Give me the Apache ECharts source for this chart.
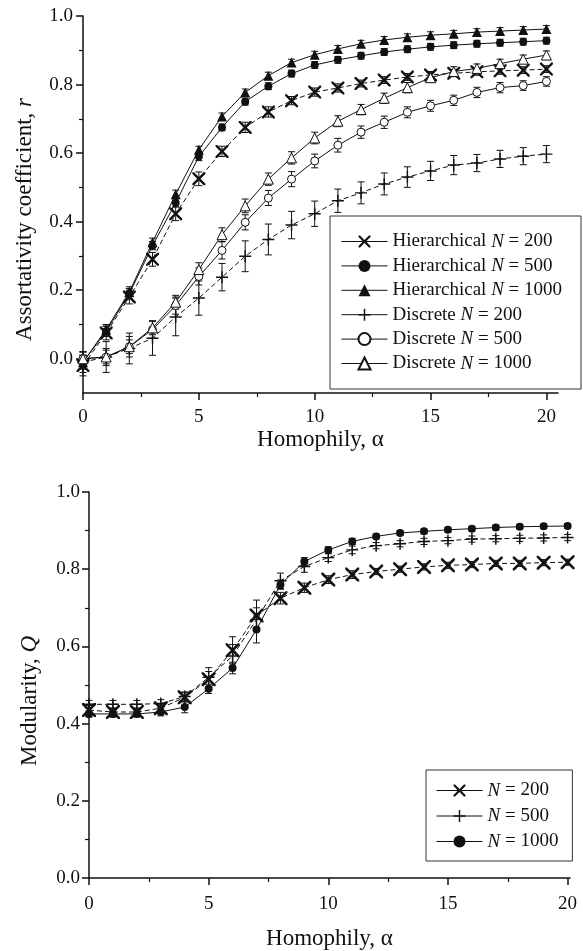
<!DOCTYPE html>
<html>
<head>
<meta charset="utf-8">
<script src="https://cdn.jsdelivr.net/npm/echarts@6/dist/echarts.min.js"></script>
<style>
  html, body { margin: 0; padding: 0; background: #fff; }
  #chart { width: 583px; height: 951px; }
</style>
</head>
<body>
<div id="chart"></div>
<script>
// homophily values (x)
const alpha = [0, 1, 2, 3, 4, 5, 6, 7, 8, 9, 10, 11, 12, 13, 14, 15, 16, 17, 18, 19, 20]

// top panel: assortativity coefficient r
const hier200 = [-0.02, 0.075, 0.18, 0.29, 0.423, 0.525, 0.605, 0.675, 0.72, 0.753, 0.778, 0.79, 0.803, 0.813, 0.822, 0.828, 0.833, 0.837, 0.84, 0.842, 0.845]
const hier500 = [-0.01, 0.08, 0.19, 0.33, 0.455, 0.59, 0.675, 0.75, 0.795, 0.832, 0.857, 0.872, 0.884, 0.895, 0.903, 0.91, 0.915, 0.919, 0.922, 0.925, 0.928]
const hier1000 = [-0.01, 0.085, 0.195, 0.34, 0.48, 0.61, 0.707, 0.777, 0.826, 0.864, 0.887, 0.904, 0.919, 0.93, 0.938, 0.944, 0.948, 0.953, 0.956, 0.959, 0.962]
const disc200 = [-0.01, 0.005, 0.03, 0.06, 0.122, 0.177, 0.238, 0.299, 0.348, 0.39, 0.423, 0.461, 0.484, 0.51, 0.53, 0.548, 0.565, 0.571, 0.583, 0.591, 0.597]
const disc500 = [0, 0.005, 0.035, 0.085, 0.155, 0.24, 0.316, 0.398, 0.469, 0.524, 0.577, 0.623, 0.661, 0.69, 0.719, 0.738, 0.754, 0.777, 0.791, 0.797, 0.809]
const disc1000 = [0, 0.005, 0.035, 0.09, 0.165, 0.26, 0.362, 0.446, 0.524, 0.586, 0.644, 0.693, 0.727, 0.76, 0.791, 0.82, 0.838, 0.847, 0.861, 0.874, 0.886]

const hier200Err = [0.03, 0.02, 0.02, 0.02, 0.02, 0.02, 0.015, 0.015, 0.015, 0.012, 0.012, 0.012, 0.01, 0.01, 0.01, 0.01, 0.01, 0.01, 0.01, 0.01, 0.01]
const hier500Err = [0.02, 0.015, 0.015, 0.012, 0.012, 0.012, 0.01, 0.01, 0.01, 0.01, 0.01, 0.01, 0.01, 0.01, 0.01, 0.01, 0.01, 0.01, 0.01, 0.01, 0.01]
const hier1000Err = [0.02, 0.015, 0.015, 0.012, 0.012, 0.01, 0.01, 0.01, 0.01, 0.01, 0.01, 0.01, 0.01, 0.01, 0.01, 0.01, 0.01, 0.01, 0.01, 0.01, 0.01]
const disc200Err = [0.03, 0.045, 0.045, 0.05, 0.055, 0.05, 0.04, 0.045, 0.045, 0.04, 0.037, 0.034, 0.032, 0.032, 0.03, 0.028, 0.028, 0.025, 0.025, 0.025, 0.025]
const disc500Err = [0.02, 0.025, 0.03, 0.025, 0.025, 0.025, 0.025, 0.022, 0.022, 0.022, 0.02, 0.02, 0.018, 0.018, 0.016, 0.016, 0.015, 0.015, 0.015, 0.014, 0.014]
const disc1000Err = [0.02, 0.02, 0.02, 0.02, 0.02, 0.02, 0.02, 0.02, 0.018, 0.018, 0.017, 0.016, 0.015, 0.015, 0.015, 0.014, 0.014, 0.013, 0.013, 0.012, 0.012]

// bottom panel: modularity Q
const mod200 = [0.435, 0.43, 0.43, 0.44, 0.468, 0.515, 0.59, 0.68, 0.725, 0.752, 0.773, 0.786, 0.794, 0.8, 0.806, 0.81, 0.812, 0.815, 0.815, 0.817, 0.818]
const mod500 = [0.45, 0.45, 0.45, 0.452, 0.47, 0.52, 0.575, 0.67, 0.77, 0.807, 0.83, 0.85, 0.861, 0.866, 0.872, 0.874, 0.878, 0.879, 0.88, 0.881, 0.882]
const mod1000 = [0.425, 0.425, 0.425, 0.43, 0.443, 0.49, 0.544, 0.644, 0.76, 0.82, 0.85, 0.872, 0.885, 0.894, 0.898, 0.902, 0.905, 0.908, 0.91, 0.911, 0.912]

const mod200Err = [0.012, 0.01, 0.01, 0.01, 0.012, 0.02, 0.035, 0.04, 0.015, 0.012, 0.01, 0.01, 0.008, 0.008, 0.008, 0.008, 0.008, 0.008, 0.008, 0.008, 0.008]
const mod500Err = [0.01, 0.01, 0.01, 0.01, 0.012, 0.025, 0.03, 0.03, 0.02, 0.015, 0.01, 0.01, 0.008, 0.008, 0.008, 0.008, 0.008, 0.008, 0.008, 0.008, 0.008]
const mod1000Err = [0.008, 0.008, 0.008, 0.01, 0.015, 0.012, 0.015, 0.035, 0.012, 0.01, 0.008, 0.008, 0.006, 0.006, 0.006, 0.006, 0.006, 0.006, 0.006, 0.006, 0.006]

// tick labels
const xMajor = [0, 5, 10, 15, 20]
const xMinor = [2.5, 7.5, 12.5, 17.5]
const yMajor = [0, 0.2, 0.4, 0.6, 0.8, 1.0]
const yMinor = [0.1, 0.3, 0.5, 0.7, 0.9]

const font = '"Liberation Serif", "DejaVu Serif", serif'
const ink = '#111'
const crossPath = 'path://M0,0 L2.6,0 L10,7.4 L17.4,0 L20,0 L20,2.6 L12.6,10 L20,17.4 L20,20 L17.4,20 L10,12.6 L2.6,20 L0,20 L0,17.4 L7.4,10 L0,2.6 Z'
const plusPath = 'path://M8.8,0 H11.2 V8.8 H20 V11.2 H11.2 V20 H8.8 V11.2 H0 V8.8 H8.8 Z'
const dash = [5, 3]

const pts = vals => alpha.map((a, i) => [a, vals[i]])

function line (name, vals, symbol, size, dashed, axis, open) {
  return {
    name,
    type: 'line',
    xAxisIndex: axis,
    yAxisIndex: axis,
    data: pts(vals),
    symbol,
    symbolSize: size,
    z: 3,
    lineStyle: { color: ink, width: 1, type: dashed ? dash : 'solid' },
    itemStyle: open
      ? { color: '#fff', borderColor: ink, borderWidth: 1 }
      : { color: ink, borderColor: ink, borderWidth: 0 }
  }
}

function errors (vals, errs, axis) {
  return {
    type: 'custom',
    xAxisIndex: axis,
    yAxisIndex: axis,
    z: 2,
    silent: true,
    data: alpha.map((a, i) => [a, vals[i] - errs[i], vals[i] + errs[i]]),
    encode: { x: 0, y: [1, 2] },
    renderItem (params, api) {
      const lo = api.coord([api.value(0), api.value(1)])
      const hi = api.coord([api.value(0), api.value(2)])
      const w = 3.5
      const st = { stroke: ink, lineWidth: 1 }
      return {
        type: 'group',
        children: [
          { type: 'line', shape: { x1: lo[0], y1: lo[1], x2: hi[0], y2: hi[1] }, style: st },
          { type: 'line', shape: { x1: lo[0] - w, y1: lo[1], x2: lo[0] + w, y2: lo[1] }, style: st },
          { type: 'line', shape: { x1: hi[0] - w, y1: hi[1], x2: hi[0] + w, y2: hi[1] }, style: st }
        ]
      }
    }
  }
}

const labelStyle = { color: ink, fontFamily: font, fontSize: 19 }
const nameStyle = {
  color: ink,
  fontFamily: font,
  fontSize: 23,
  rich: { i: { fontStyle: 'italic', fontFamily: font, fontSize: 23, color: ink } }
}

function mainX (grid, max, gap, margin) {
  return {
    type: 'value',
    gridIndex: grid,
    position: 'bottom',
    min: 0,
    max,
    interval: 5,
    name: 'Homophily, α',
    nameLocation: 'middle',
    nameGap: gap,
    nameTextStyle: nameStyle,
    axisLine: { onZero: false, lineStyle: { color: ink, width: 1.5 } },
    axisTick: { customValues: xMajor, length: 7, lineStyle: { color: ink, width: 1.5 } },
    axisLabel: { customValues: xMajor, margin, ...labelStyle },
    splitLine: { show: false }
  }
}

function minorX (grid, max) {
  return {
    type: 'value',
    gridIndex: grid,
    position: 'bottom',
    min: 0,
    max,
    axisLine: { show: false, onZero: false },
    axisTick: { customValues: xMinor, length: 4, lineStyle: { color: ink, width: 1.2 } },
    axisLabel: { show: false },
    splitLine: { show: false }
  }
}

// shift is extra right padding on the rotated name, which moves it down the axis
function mainY (grid, min, name, gap, margin, shift) {
  return {
    type: 'value',
    gridIndex: grid,
    position: 'left',
    min,
    max: 1,
    interval: 0.1,
    name,
    nameLocation: 'middle',
    nameRotate: 90,
    nameGap: gap,
    nameTextStyle: { ...nameStyle, padding: [0, shift, 0, 0] },
    axisLine: { onZero: false, lineStyle: { color: ink, width: 1.5 } },
    axisTick: { customValues: yMajor, length: 7, lineStyle: { color: ink, width: 1.5 } },
    axisLabel: { customValues: yMajor, margin, formatter: v => v.toFixed(1), ...labelStyle },
    splitLine: { show: false }
  }
}

function minorY (grid, min) {
  return {
    type: 'value',
    gridIndex: grid,
    position: 'left',
    min,
    max: 1,
    interval: 0.1,
    axisLine: { show: false, onZero: false },
    axisTick: { customValues: yMinor, length: 4, lineStyle: { color: ink, width: 1.2 } },
    axisLabel: { show: false },
    splitLine: { show: false }
  }
}

const legendBase = {
  orient: 'vertical',
  itemWidth: 46,
  itemHeight: 15,
  borderColor: '#333',
  borderWidth: 1,
  backgroundColor: '#fff',
  lineStyle: { type: 'solid', width: 1, color: ink },
  formatter: n => n.replace('N', '{i|N}'),
  textStyle: {
    color: ink,
    fontFamily: font,
    fontSize: 19,
    lineHeight: 19,
    rich: { i: { fontStyle: 'italic', fontFamily: font, fontSize: 19, lineHeight: 19, color: ink } }
  }
}

const chart = echarts.init(document.getElementById('chart'))
chart.setOption({
  animation: false,
  backgroundColor: '#fff',
  grid: [
    { left: 83, right: 25, top: 16, height: 377 },
    { left: 89, right: 13, top: 492, height: 388 }
  ],
  xAxis: [mainX(0, 20.5, 35, 15), minorX(0, 20.5), mainX(1, 20.1, 49, 17), minorX(1, 20.1)],
  yAxis: [
    mainY(0, -0.1, 'Assortativity coefficient, {i|r}', 47, 10, 30),
    minorY(0, -0.1),
    mainY(1, 0, 'Modularity, {i|Q}', 48, 9, 32),
    minorY(1, 0)
  ],
  legend: [
    {
      ...legendBase,
      left: 330,
      top: 216,
      itemGap: 5.4,
      padding: [16, 19, 16, 11],
      data: ['Hierarchical N = 200', 'Hierarchical N = 500', 'Hierarchical N = 1000', 'Discrete N = 200', 'Discrete N = 500', 'Discrete N = 1000']
    },
    {
      ...legendBase,
      left: 426,
      top: 770,
      itemGap: 6.5,
      padding: [11, 14, 10, 10],
      data: ['N = 200', 'N = 500', 'N = 1000']
    }
  ],
  series: [
    errors(hier200, hier200Err, 0),
    errors(hier500, hier500Err, 0),
    errors(hier1000, hier1000Err, 0),
    errors(disc200, disc200Err, 0),
    errors(disc500, disc500Err, 0),
    errors(disc1000, disc1000Err, 0),
    line('Hierarchical N = 200', hier200, crossPath, 13, true, 0, false),
    line('Hierarchical N = 500', hier500, 'circle', 8, false, 0, false),
    line('Hierarchical N = 1000', hier1000, 'triangle', 10, false, 0, false),
    line('Discrete N = 200', disc200, plusPath, 12, true, 0, false),
    line('Discrete N = 500', disc500, 'circle', 8, false, 0, true),
    line('Discrete N = 1000', disc1000, 'triangle', 10, false, 0, true),
    errors(mod200, mod200Err, 2),
    errors(mod500, mod500Err, 2),
    errors(mod1000, mod1000Err, 2),
    line('N = 200', mod200, crossPath, 14, true, 2, false),
    line('N = 500', mod500, plusPath, 12, true, 2, false),
    line('N = 1000', mod1000, 'circle', 8, false, 2, false)
  ]
})
</script>
</body>
</html>
